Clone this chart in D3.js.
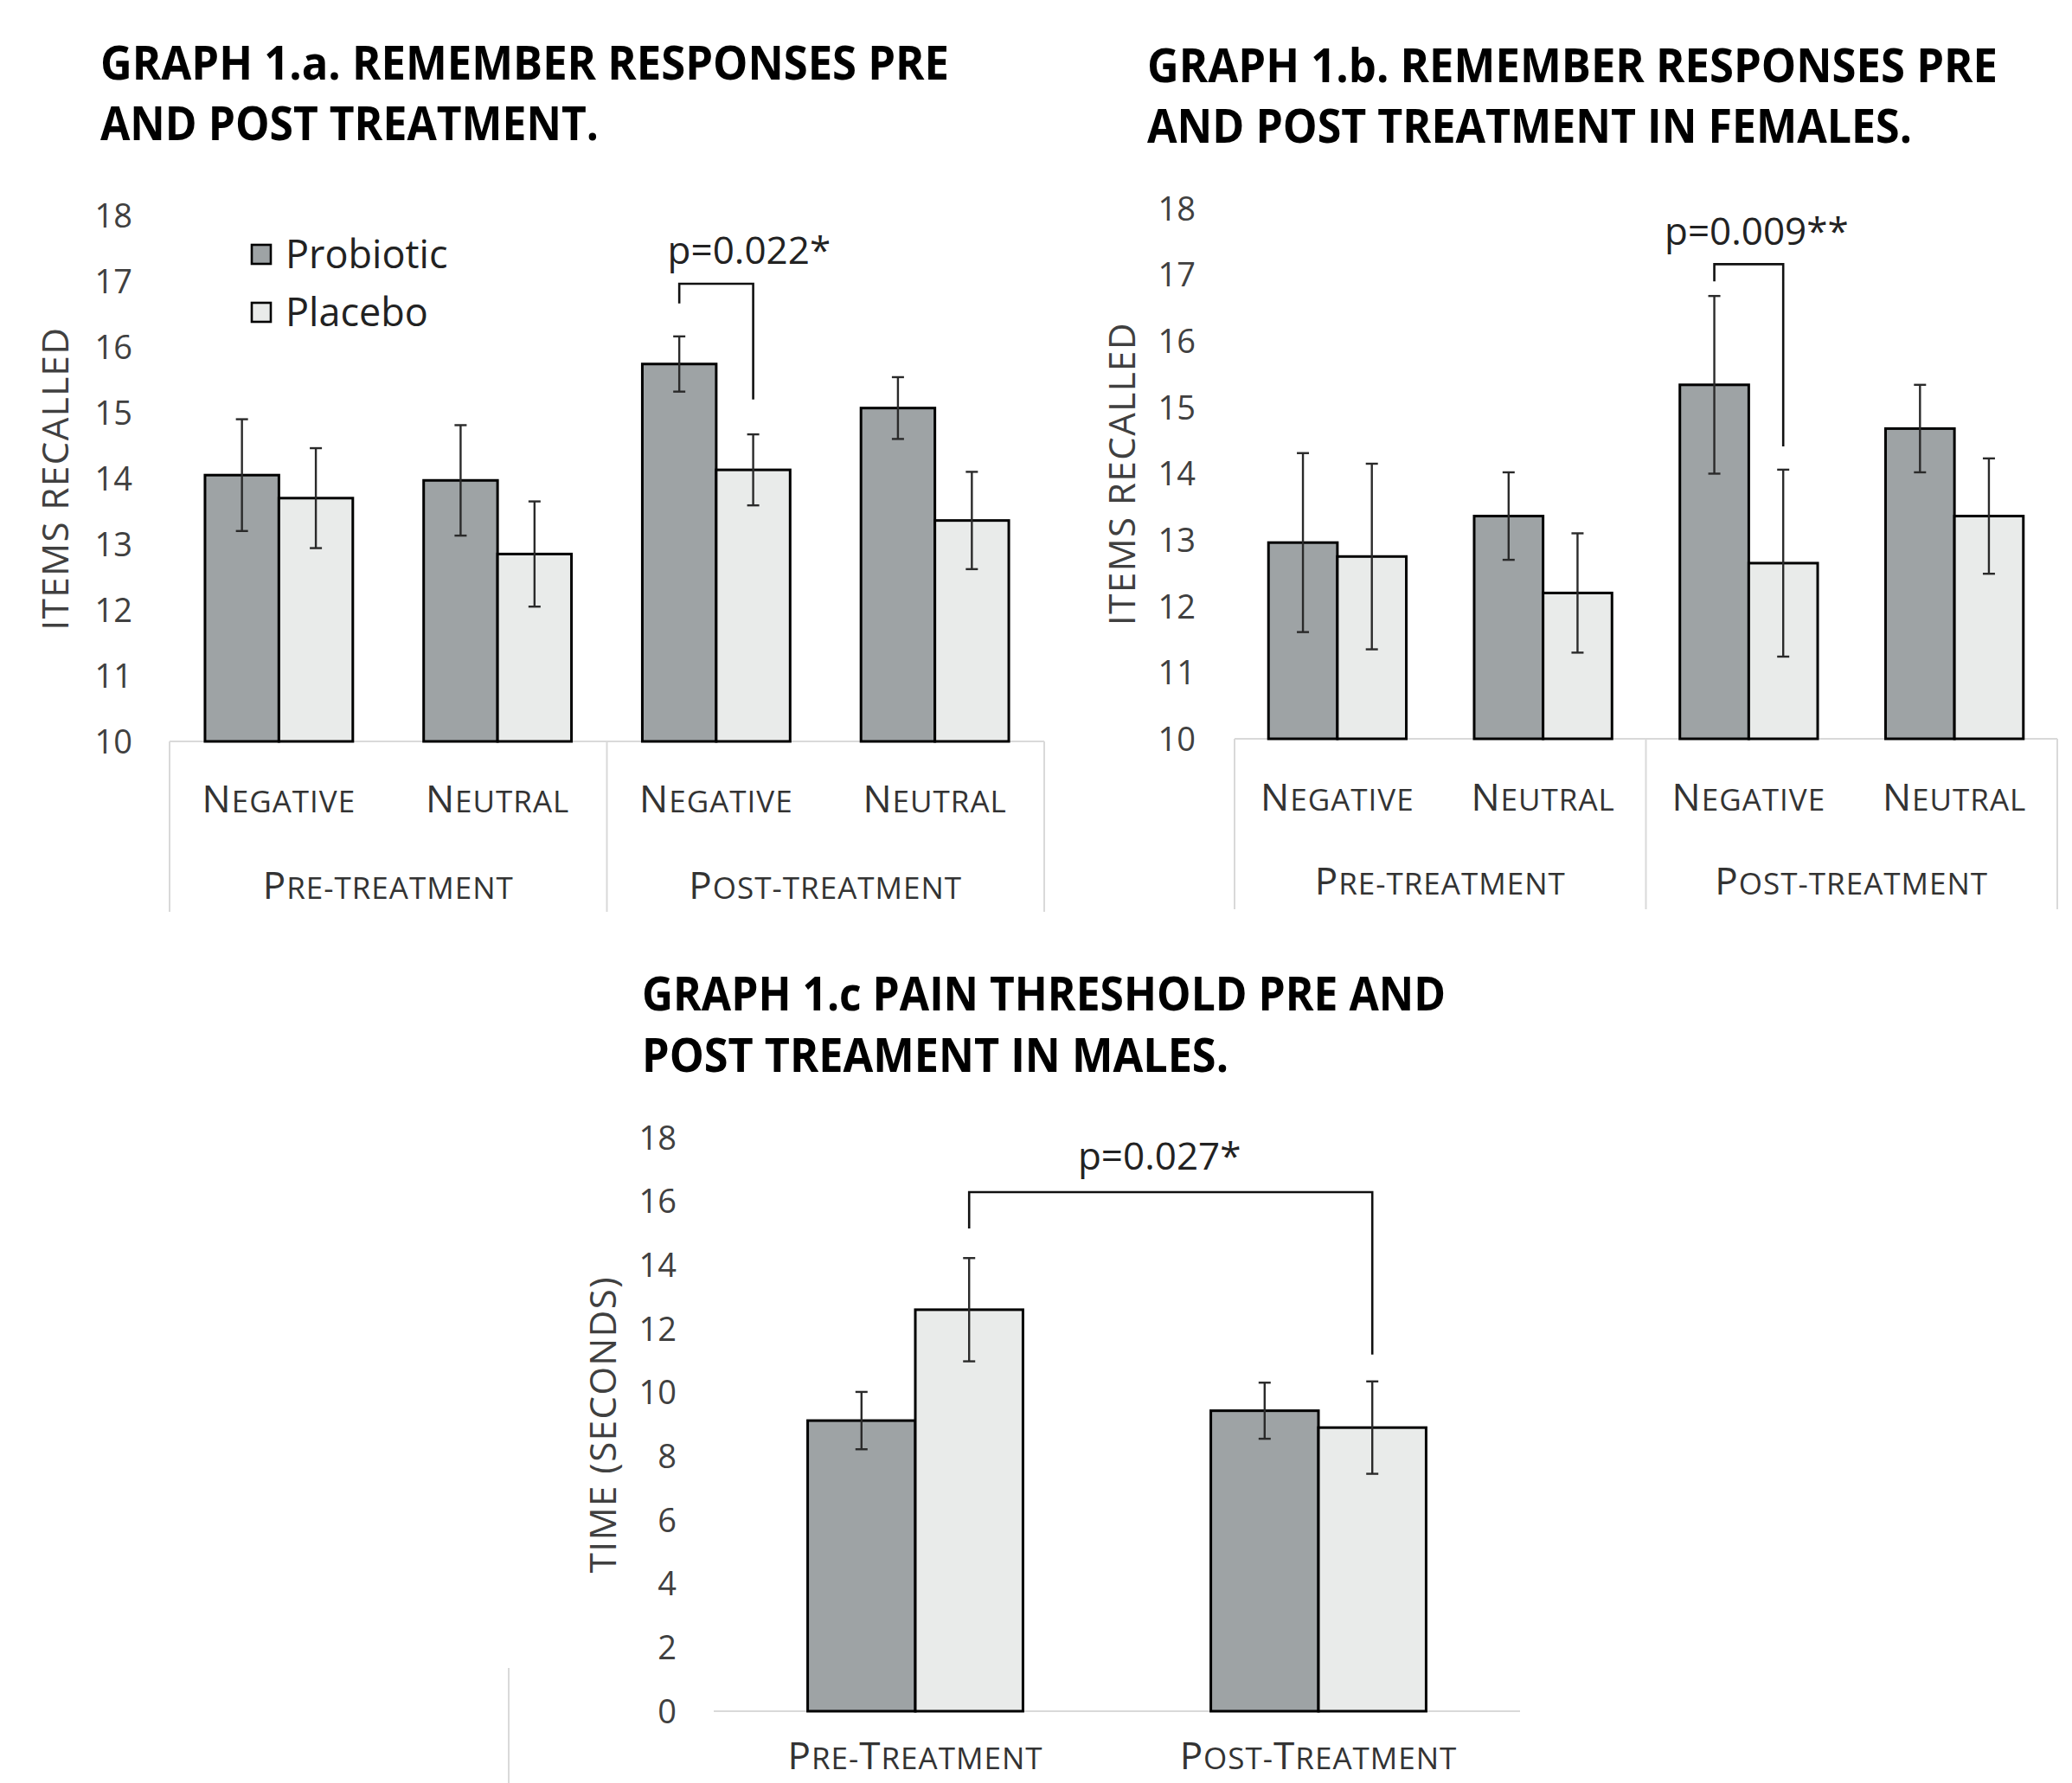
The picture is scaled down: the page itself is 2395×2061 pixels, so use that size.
<!DOCTYPE html>
<html>
<head>
<meta charset="utf-8">
<script src="https://cdn.jsdelivr.net/npm/d3@7"></script>
<style>
  body { margin: 0; background: #ffffff; }
  svg { display: block; }
  text { font-family: "Open Sans", "Noto Sans", sans-serif; }
</style>
</head>
<body>
<svg id="fig" width="2395" height="2061"></svg>
<script>
// ---- categories and labels ----
const conditions = ["Probiotic", "Placebo"];
const phases = ["Pre-treatment", "Post-treatment"];
const valences = ["Negative", "Neutral"];
const painPhases = ["Pre-Treatment", "Post-Treatment"];

const recallTicks = [10, 11, 12, 13, 14, 15, 16, 17, 18];
const painTicks = [0, 2, 4, 6, 8, 10, 12, 14, 16, 18];

const titleA = ["GRAPH 1.a. REMEMBER RESPONSES PRE", "AND POST TREATMENT."];
const titleB = ["GRAPH 1.b. REMEMBER RESPONSES PRE", "AND POST TREATMENT IN FEMALES."];
const titleC = ["GRAPH 1.c PAIN THRESHOLD PRE AND", "POST TREAMENT IN MALES."];

// ---- Graph 1.a: remember responses, all participants (pre-neg, pre-neu, post-neg, post-neu) ----
const allProbiotic = [14.05, 13.97, 15.74, 15.07];
const allProbioticErr = [0.85, 0.84, 0.42, 0.47];
const allPlacebo = [13.70, 12.85, 14.13, 13.36];
const allPlaceboErr = [0.76, 0.80, 0.54, 0.74];

// ---- Graph 1.b: remember responses, females ----
const femProbiotic = [12.96, 13.36, 15.34, 14.68];
const femProbioticErr = [1.35, 0.66, 1.34, 0.66];
const femPlacebo = [12.75, 12.20, 12.65, 13.36];
const femPlaceboErr = [1.40, 0.90, 1.41, 0.87];

// ---- Graph 1.c: pain threshold (seconds), males ----
const painProbiotic = [9.12, 9.43];
const painProbioticErr = [0.90, 0.88];
const painPlacebo = [12.60, 8.90];
const painPlaceboErr = [1.62, 1.45];

// ---- significance brackets: [category index, condition] pairs, heights in data units ----
const sigA = { label: "p=0.022*", from: [2, "Probiotic"], to: [2, "Placebo"], top: 16.96, leftEnd: 16.66, rightEnd: 15.20, textY: 17.26 };
const sigB = { label: "p=0.009**", from: [2, "Probiotic"], to: [2, "Placebo"], top: 17.16, leftEnd: 16.90, rightEnd: 14.41, textY: 17.45 };
const sigC = { label: "p=0.027*", from: [0, "Placebo"], to: [1, "Placebo"], top: 16.29, leftEnd: 15.15, rightEnd: 11.19, textY: 17.00 };

const fills = { Probiotic: "#9ea3a5", Placebo: "#e9ebea" };
const svg = d3.select("#fig");

// Draws a label whose capital letters are full size and other letters are small capitals.
function smallCaps(sel, str, big, small) {
  str.split("").forEach(ch => {
    const isCap = ch !== ch.toLowerCase() || /[0-9]/.test(ch);
    sel.append("tspan")
      .attr("font-size", isCap ? big : small)
      .text(ch.toUpperCase());
  });
}

function drawTitle(lines, x, y0, lineGap, widths) {
  lines.forEach((line, i) => {
    svg.append("text")
      .attr("x", x).attr("y", y0 + i * lineGap)
      .attr("font-size", 53).attr("font-weight", 700).attr("fill", "#000")
      .attr("textLength", widths[i]).attr("lengthAdjust", "spacingAndGlyphs")
      .text(line);
  });
}

function drawPanel(cfg) {
  const g = svg.append("g");
  const y = d3.scaleLinear().domain(cfg.domain).range([cfg.bottom, cfg.top]);
  const x0 = d3.scaleBand().domain(d3.range(cfg.cats.length)).range([cfg.left, cfg.right]).padding(0);
  const inner = x0.bandwidth() * cfg.barFrac;
  const offset = (x0.bandwidth() - inner) / 2;
  const x1 = d3.scaleBand().domain(conditions).range([offset, offset + inner]).padding(0);

  const rows = cfg.cats.map((c, i) => ({
    i,
    vals: [
      { cond: "Probiotic", v: cfg.probiotic[i], e: cfg.probioticErr[i] },
      { cond: "Placebo", v: cfg.placebo[i], e: cfg.placeboErr[i] }
    ]
  }));

  // baseline
  g.append("line")
    .attr("x1", cfg.left).attr("x2", cfg.right)
    .attr("y1", y(cfg.domain[0])).attr("y2", y(cfg.domain[0]))
    .attr("stroke", "#d9d9d9").attr("stroke-width", 2);

  // y axis tick labels
  const yAxis = d3.axisLeft(y).tickValues(cfg.ticks).tickSize(0).tickPadding(0);
  const ax = g.append("g").attr("transform", `translate(${cfg.tickRight},0)`).call(yAxis);
  ax.select(".domain").remove();
  ax.selectAll("text")
    .attr("font-family", "'Open Sans', sans-serif")
    .attr("font-size", 38).attr("fill", "#404040").attr("dy", "0.35em");

  // y axis title
  g.append("text")
    .attr("transform", `translate(${cfg.titleX},${(y(cfg.domain[0]) + y(cfg.domain[1])) / 2 + cfg.titleDy}) rotate(-90)`)
    .attr("text-anchor", "middle").attr("font-size", 42).attr("fill", "#404040")
    .attr("letter-spacing", 1.5)
    .text(cfg.yTitle);

  // bars
  const cat = g.selectAll("g.cat").data(rows).join("g")
    .attr("class", "cat")
    .attr("transform", d => `translate(${x0(d.i)},0)`);

  cat.selectAll("rect").data(d => d.vals).join("rect")
    .attr("x", d => x1(d.cond))
    .attr("width", x1.bandwidth())
    .attr("y", d => y(d.v))
    .attr("height", d => y(cfg.domain[0]) - y(d.v))
    .attr("fill", d => fills[d.cond])
    .attr("stroke", "#000").attr("stroke-width", 3);

  // error bars
  const eb = cat.selectAll("g.err").data(d => d.vals).join("g").attr("class", "err")
    .attr("stroke", "#2a2a2a").attr("stroke-width", 2.4);
  const cx = d => x1(d.cond) + x1.bandwidth() / 2;
  eb.append("line").attr("x1", cx).attr("x2", cx)
    .attr("y1", d => y(d.v + d.e)).attr("y2", d => y(d.v - d.e));
  eb.append("line").attr("x1", d => cx(d) - 7).attr("x2", d => cx(d) + 7)
    .attr("y1", d => y(d.v + d.e)).attr("y2", d => y(d.v + d.e));
  eb.append("line").attr("x1", d => cx(d) - 7).attr("x2", d => cx(d) + 7)
    .attr("y1", d => y(d.v - d.e)).attr("y2", d => y(d.v - d.e));

  // category labels
  cfg.cats.forEach((c, i) => {
    const t = g.append("text")
      .attr("x", x0(i) + x0.bandwidth() / 2).attr("y", cfg.catY)
      .attr("text-anchor", "middle").attr("fill", "#333")
      .attr("letter-spacing", 1);
    smallCaps(t, c, cfg.capBig, cfg.capSmall);
  });

  // group labels and separators
  if (cfg.groups) {
    const per = cfg.cats.length / cfg.groups.length;
    cfg.groups.forEach((grp, gi) => {
      const gx0 = x0(gi * per), gx1 = x0(gi * per + per - 1) + x0.bandwidth();
      const t = g.append("text")
        .attr("x", (gx0 + gx1) / 2).attr("y", cfg.groupY)
        .attr("text-anchor", "middle").attr("fill", "#333")
        .attr("letter-spacing", 1);
      smallCaps(t, grp, cfg.capBig, cfg.capSmall);
    });
    const seps = d3.range(cfg.groups.length + 1).map(k => k === cfg.groups.length ? cfg.right : x0(k * per));
    g.selectAll("line.sep").data(seps).join("line").attr("class", "sep")
      .attr("x1", d => d).attr("x2", d => d)
      .attr("y1", y(cfg.domain[0])).attr("y2", cfg.sepBottom)
      .attr("stroke", "#d9d9d9").attr("stroke-width", 2);
  }

  // significance bracket
  const s = cfg.sig;
  const bx = ([ci, cond]) => x0(ci) + x1(cond) + x1.bandwidth() / 2;
  const xa = bx(s.from), xb = bx(s.to);
  g.append("path")
    .attr("d", `M${xa},${y(s.leftEnd)}V${y(s.top)}H${xb}V${y(s.rightEnd)}`)
    .attr("fill", "none").attr("stroke", "#111").attr("stroke-width", 2.6);
  g.append("text")
    .attr("x", (xa + xb) / 2 + cfg.sigDx).attr("y", y(s.textY))
    .attr("text-anchor", "middle").attr("font-size", 44).attr("fill", "#222")
    .text(s.label);

  return { g, y };
}

// ---- titles ----
drawTitle(titleA, 116, 92, 70, [981, 576]);
drawTitle(titleB, 1326, 95, 70, [983, 884]);
drawTitle(titleC, 742, 1168, 71, [929, 678]);

// ---- Graph 1.a ----
const combos = phases.flatMap(p => valences);
const panelA = drawPanel({
  cats: combos, groups: phases,
  probiotic: allProbiotic, probioticErr: allProbioticErr,
  placebo: allPlacebo, placeboErr: allPlaceboErr,
  domain: [10, 18], ticks: recallTicks,
  left: 196, right: 1207, top: 249, bottom: 857, barFrac: 0.676,
  tickRight: 153, titleX: 79, titleDy: 0, yTitle: "ITEMS RECALLED",
  catY: 939, groupY: 1039, sepBottom: 1054, capBig: 44, capSmall: 35,
  sig: sigA, sigDx: 38
});

// legend
const legend = panelA.g.append("g");
conditions.forEach((c, i) => {
  legend.append("rect")
    .attr("x", 291).attr("y", 283 + i * 67).attr("width", 22).attr("height", 22)
    .attr("fill", fills[c]).attr("stroke", "#000").attr("stroke-width", 2.6);
  legend.append("text")
    .attr("x", 330).attr("y", 310 + i * 67)
    .attr("font-size", 45).attr("fill", "#222")
    .text(c);
});

// ---- Graph 1.b ----
drawPanel({
  cats: combos, groups: phases,
  probiotic: femProbiotic, probioticErr: femProbioticErr,
  placebo: femPlacebo, placeboErr: femPlaceboErr,
  domain: [10, 18], ticks: recallTicks,
  left: 1427, right: 2378, top: 241, bottom: 854, barFrac: 0.67,
  tickRight: 1382, titleX: 1312, titleDy: 0, yTitle: "ITEMS RECALLED",
  catY: 937, groupY: 1034, sepBottom: 1051, capBig: 44, capSmall: 35,
  sig: sigB, sigDx: 9
});

// ---- Graph 1.c ----
drawPanel({
  cats: painPhases, groups: null,
  probiotic: painProbiotic, probioticErr: painProbioticErr,
  placebo: painPlacebo, placeboErr: painPlaceboErr,
  domain: [0, 18], ticks: painTicks,
  left: 825, right: 1757, top: 1315, bottom: 1978, barFrac: 0.534,
  tickRight: 782, titleX: 712, titleDy: 0, yTitle: "TIME (SECONDS)",
  catY: 2045, capBig: 44, capSmall: 35,
  sig: sigC, sigDx: -13
});

// left edge of the lower figure frame
svg.append("line")
  .attr("x1", 588).attr("x2", 588).attr("y1", 1928).attr("y2", 2061)
  .attr("stroke", "#d9d9d9").attr("stroke-width", 2);
</script>
</body>
</html>
